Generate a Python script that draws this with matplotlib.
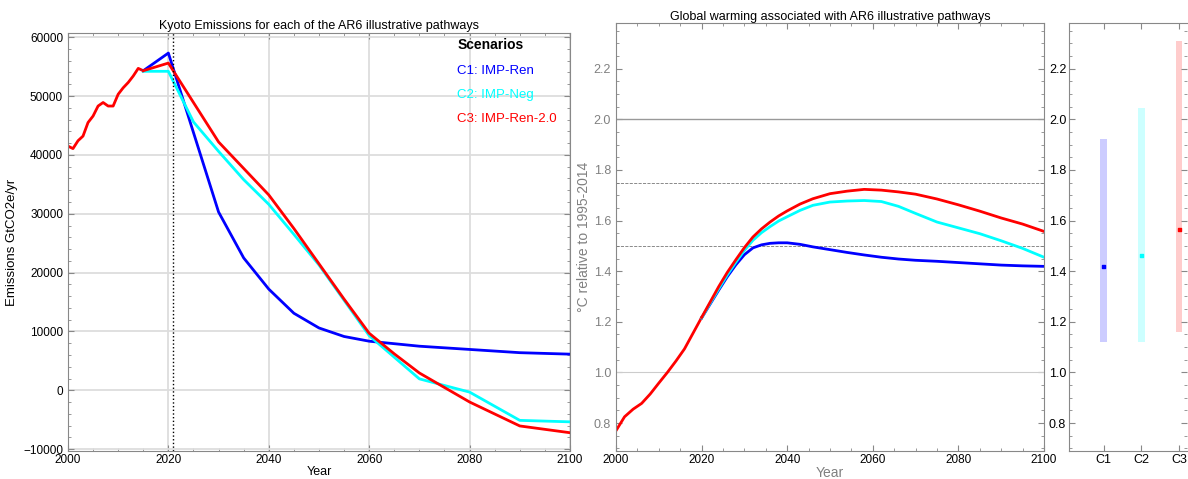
import numpy as np
import matplotlib
matplotlib.use("Agg")
import matplotlib.pyplot as plt
from matplotlib.ticker import AutoMinorLocator, MultipleLocator

plt.rcParams['font.family'] = ['Liberation Sans', 'DejaVu Sans']
plt.rcParams['font.size'] = 8.5

# --- emissions (left panel) ---
hist_years = [2000, 2001, 2002, 2003, 2004, 2005, 2006, 2007, 2008, 2009,
              2010, 2011, 2012, 2013, 2014, 2015]
hist_emis = [41500, 41070, 42400, 43200, 45500, 46600, 48300, 48900, 48300, 48300,
             50300, 51400, 52300, 53400, 54700, 54300]

c1_years = [2015, 2020, 2025, 2030, 2035, 2040, 2045, 2050, 2055, 2060, 2070, 2080, 2090, 2100]
c1_emis = [54300, 57300, 43800, 30300, 22500, 17200, 13100, 10600, 9150, 8350, 7500, 6950, 6400, 6150]

c2_years = [2015, 2020, 2025, 2030, 2035, 2040, 2045, 2050, 2055, 2060, 2070, 2080, 2090, 2100]
c2_emis = [54200, 54200, 45600, 40600, 35800, 31600, 26500, 21300, 15300, 9300, 1950, -300, -5100, -5350]

c3_years = [2015, 2020, 2025, 2030, 2035, 2040, 2045, 2050, 2055, 2060, 2065, 2070, 2080, 2090, 2100]
c3_emis = [54300, 55600, 48900, 42200, 37700, 33200, 27500, 21500, 15500, 9700, 6200, 2950, -1980, -6050, -7200]

scen_names = ['C1: IMP-Ren', 'C2: IMP-Neg', 'C3: IMP-Ren-2.0']
scen_colors = ['blue', 'cyan', 'red']

# --- warming (middle panel) ---
t_hist_years = [2000, 2002, 2004, 2006, 2008, 2010, 2012, 2014, 2016, 2018, 2020]
t_hist = [0.770, 0.825, 0.855, 0.878, 0.915, 0.958, 1.000, 1.045, 1.093, 1.155, 1.217]

t_years = [2020, 2022, 2024, 2026, 2028, 2030, 2032, 2034, 2036, 2038, 2040, 2043, 2046,
           2050, 2054, 2058, 2062, 2066, 2070, 2075, 2080, 2085, 2090, 2095, 2100]
t_c1 = [1.215, 1.270, 1.325, 1.378, 1.425, 1.465, 1.492, 1.504, 1.510, 1.512, 1.512, 1.506, 1.496,
        1.485, 1.474, 1.464, 1.455, 1.448, 1.443, 1.439, 1.434, 1.429, 1.424, 1.421, 1.419]
t_c2 = [1.215, 1.273, 1.330, 1.385, 1.435, 1.482, 1.522, 1.552, 1.576, 1.598, 1.615, 1.640, 1.660,
        1.673, 1.677, 1.679, 1.675, 1.656, 1.628, 1.594, 1.571, 1.548, 1.520, 1.490, 1.455]
t_c3 = [1.217, 1.278, 1.339, 1.395, 1.445, 1.493, 1.535, 1.567, 1.594, 1.618, 1.638, 1.665, 1.686,
        1.706, 1.716, 1.723, 1.720, 1.713, 1.704, 1.685, 1.662, 1.637, 1.610, 1.586, 1.557]

# --- 2100 ranges (right panel) ---
cats = ['C1', 'C2', 'C3']
range_lo = [1.12, 1.12, 1.16]
range_hi = [1.92, 2.045, 2.31]
medians = [1.42, 1.462, 1.565]

fig = plt.figure(figsize=(11.88, 4.79), dpi=100)
ax1 = fig.add_axes([0.0572, 0.0585, 0.4226, 0.8725])
ax2 = fig.add_axes([0.5185, 0.0585, 0.3603, 0.8935])
ax3 = fig.add_axes([0.8998, 0.0585, 0.0995, 0.8935])

spine_col = '#888888'
for ax in (ax1, ax2, ax3):
    for s in ax.spines.values():
        s.set_color(spine_col)
    ax.tick_params(which='both', direction='in', top=True, right=True, color=spine_col)
    ax.tick_params(which='major', length=4)
    ax.tick_params(which='minor', length=2)
    ax.tick_params(axis='x', pad=2)

# left
ax1.grid(True, color='#dddddd', lw=1.3)
ax1.set_axisbelow(True)
ax1.plot(hist_years, hist_emis, color='red', lw=2)
ax1.plot(c1_years, c1_emis, color='blue', lw=2, label=scen_names[0])
ax1.plot(c2_years, c2_emis, color='cyan', lw=2, label=scen_names[1])
ax1.plot(c3_years, c3_emis, color='red', lw=2, label=scen_names[2])
ax1.axvline(2021, color='black', ls=':', lw=1)
ax1.set_xlim(2000, 2100)
ax1.set_ylim(-10300, 60700)
ax1.xaxis.set_major_locator(MultipleLocator(20))
ax1.yaxis.set_major_locator(MultipleLocator(10000))
ax1.xaxis.set_minor_locator(AutoMinorLocator(4))
ax1.yaxis.set_minor_locator(AutoMinorLocator(5))
ax1.set_xlabel('Year', fontsize=9, labelpad=0)
ax1.set_ylabel('Emissions GtCO2e/yr', fontsize=9.5)
ax1.set_title('Kyoto Emissions for each of the AR6 illustrative pathways', fontsize=9, pad=3)
leg = ax1.legend(loc='upper right', title='Scenarios', frameon=False, handlelength=0,
                 handletextpad=0, labelcolor=scen_colors, fontsize=9.5, labelspacing=0.9,
                 alignment='left', borderaxespad=0.2, bbox_to_anchor=(0.99, 1.006))
for h in leg.legend_handles:
    h.set_visible(False)
leg.get_title().set_fontweight('bold')
leg.get_title().set_fontsize(10)

# middle
ax2.axhline(2.0, color='#999999', lw=1)
ax2.axhline(1.75, color='#777777', ls='--', lw=0.6)
ax2.axhline(1.5, color='#777777', ls='--', lw=0.6)
ax2.axhline(1.0, color='#cccccc', lw=0.8)
ax2.plot(t_hist_years, t_hist, color='red', lw=2)
ax2.plot(t_years, t_c1, color='blue', lw=2)
ax2.plot(t_years, t_c2, color='cyan', lw=2)
ax2.plot(t_years, t_c3, color='red', lw=2)
ax2.set_xlim(2000, 2100)
ax2.set_ylim(0.69, 2.38)
ax2.xaxis.set_major_locator(MultipleLocator(20))
ax2.xaxis.set_minor_locator(AutoMinorLocator(4))
ax2.set_yticks(np.arange(0.8, 2.21, 0.2))
ax2.yaxis.set_minor_locator(AutoMinorLocator(4))
ax2.tick_params(axis='y', labelright=True, labelsize=9)
for t in ax2.yaxis.get_major_ticks():
    t.label1.set_color('gray')
    t.label2.set_color('black')
ax2.set_xlabel('Year', color='gray', fontsize=10, labelpad=0)
ax2.set_ylabel('°C relative to 1995-2014', color='gray', fontsize=10, labelpad=2)
ax2.set_title('Global warming associated with AR6 illustrative pathways', fontsize=9, pad=2)

# right
xpos = np.arange(1, len(cats) + 1)
ax3.bar(xpos, np.array(range_hi) - np.array(range_lo), bottom=range_lo, width=0.17,
        color=scen_colors, alpha=0.2)
ax3.scatter(xpos, medians, marker='s', s=5, color=scen_colors, zorder=3)
ax3.set_xlim(0.08, 3.21)
ax3.set_ylim(ax2.get_ylim())
ax3.set_xticks(xpos)
ax3.set_xticklabels(cats, fontsize=9)
ax3.set_yticks(np.arange(0.8, 2.21, 0.2))
ax3.yaxis.set_minor_locator(AutoMinorLocator(4))
ax3.tick_params(axis='y', labelleft=False)
ax3.spines['right'].set_visible(False)

fig.savefig('out.png', dpi=100)
